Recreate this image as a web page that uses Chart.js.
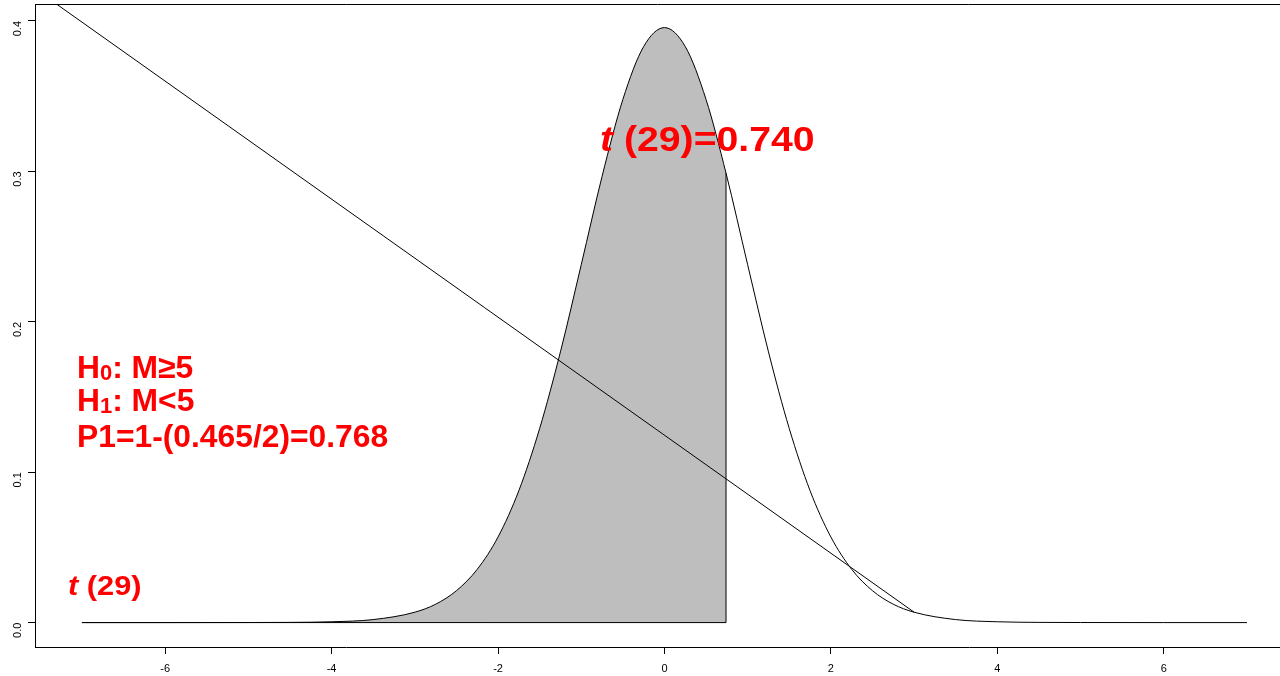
<!DOCTYPE html>
<html>
<head>
<meta charset="utf-8">
<script src="https://cdn.jsdelivr.net/npm/chart.js@4/dist/chart.umd.min.js"></script>
<style>
  html, body { margin: 0; padding: 0; background: #fff; overflow: hidden; }
  canvas { display: block; }
</style>
</head>
<body>
<canvas id="c" width="1280" height="676"></canvas>
<script>
// Student t density, 29 degrees of freedom, sampled along t
const tValues = [-7, -6, -5, -4.5, -4, -3.5, -3, -2.75, -2.5, -2.25, -2, -1.75, -1.5, -1.25, -1, -0.75, -0.5, -0.25,
                 0, 0.25, 0.5, 0.74, 1, 1.25, 1.5, 1.75, 2, 2.25, 2.5, 2.75, 3, 3.5, 4, 4.5, 5, 6, 7];
const densityValues = [0, 0.000003, 0.00004, 0.00014, 0.00054, 0.0020, 0.0069, 0.0122, 0.0212, 0.0354, 0.0569, 0.0877, 0.1290, 0.1800, 0.2379, 0.2966, 0.3478, 0.3830,
                       0.3956, 0.3830, 0.3478, 0.2988, 0.2379, 0.1800, 0.1290, 0.0877, 0.0569, 0.0354, 0.0212, 0.0122, 0.0069, 0.0020, 0.00054, 0.00014, 0.00004, 0.000003, 0];

// observed statistic and the density height there
const tObserved = 0.740;
const densityAtObserved = 0.2988;
const tLower = -7;

// straight reference line
const refLineX = [-7.6, 3];
const refLineY = [0.4228, 0.0069];

// axis ticks
const xTickValues = [-6, -4, -2, 0, 2, 4, 6];
const yTickValues = [0, 0.1, 0.2, 0.3, 0.4];

const curvePts = tValues.map((x, i) => ({ x, y: densityValues[i] }));
const shadedPts = curvePts.filter(p => p.x <= tObserved + 1e-9);
const outlinePts = [
  { x: tLower, y: 0 },
  { x: tObserved, y: 0 },
  { x: tObserved, y: densityAtObserved }
];
const refPts = refLineX.map((x, i) => ({ x, y: refLineY[i] }));

const FONT = '"Liberation Sans", Arial, Helvetica, sans-serif';
const RED = '#FF0000';

// frame line along the top of the plot area
const topFrame = {
  id: 'topFrame',
  afterDraw(chart) {
    const { ctx, chartArea } = chart;
    ctx.save();
    ctx.strokeStyle = '#000';
    ctx.lineWidth = 1;
    ctx.beginPath();
    ctx.moveTo(chartArea.left, chartArea.top + 0.5);
    ctx.lineTo(chartArea.right, chartArea.top + 0.5);
    ctx.stroke();
    ctx.restore();
  }
};

// draws a sequence of text runs on one baseline
function drawRuns(ctx, x, y, runs, sx) {
  ctx.save();
  ctx.translate(x, y);
  ctx.scale(sx, 1);
  let cx = 0;
  for (const r of runs) {
    ctx.font = r.font;
    ctx.fillText(r.text, cx, r.dy || 0);
    cx += ctx.measureText(r.text).width;
  }
  ctx.restore();
}

// red annotations
const annotations = {
  id: 'annotations',
  afterDatasetsDraw(chart) {
    const ctx = chart.ctx;
    ctx.save();
    ctx.fillStyle = RED;
    ctx.textBaseline = 'alphabetic';
    ctx.textAlign = 'left';

    drawRuns(ctx, 600, 151, [
      { text: 't', font: `italic bold 35px ${FONT}` },
      { text: ' (29)=0.740', font: `bold 35px ${FONT}` }
    ], 1.12);

    drawRuns(ctx, 77, 378, [
      { text: 'H', font: `bold 31.8px ${FONT}` },
      { text: '0', font: `bold 22px ${FONT}`, dy: 2 },
      { text: ': M≥5', font: `bold 31.8px ${FONT}` }
    ], 1.0);
    drawRuns(ctx, 77, 411, [
      { text: 'H', font: `bold 31.8px ${FONT}` },
      { text: '1', font: `bold 22px ${FONT}`, dy: 2 },
      { text: ': M<5', font: `bold 31.8px ${FONT}` }
    ], 1.0);
    drawRuns(ctx, 77, 447, [
      { text: 'P1=1-(0.465/2)=0.768', font: `bold 31.8px ${FONT}` }
    ], 1.0);

    drawRuns(ctx, 68, 595, [
      { text: 't', font: `italic bold 28px ${FONT}` },
      { text: ' (29)', font: `bold 28px ${FONT}` }
    ], 1.1);
    ctx.restore();
  }
};

new Chart(document.getElementById('c'), {
  type: 'scatter',
  data: {
    datasets: [
      { // density curve
        data: curvePts, showLine: true, borderColor: '#000', borderWidth: 1,
        pointRadius: 0, cubicInterpolationMode: 'monotone', fill: false, order: 0
      },
      { // reference line
        data: refPts, showLine: true, borderColor: '#000', borderWidth: 1,
        pointRadius: 0, tension: 0, fill: false, order: 1
      },
      { // outline of the shaded region
        data: outlinePts, showLine: true, borderColor: '#000', borderWidth: 1,
        pointRadius: 0, tension: 0, fill: false, order: 2
      },
      { // shaded area up to the observed t
        data: shadedPts, showLine: true, borderColor: 'rgba(0,0,0,0)', borderWidth: 0,
        backgroundColor: '#BEBEBE', pointRadius: 0, cubicInterpolationMode: 'monotone',
        fill: 'origin', order: 3
      }
    ]
  },
  options: {
    responsive: false,
    animation: false,
    devicePixelRatio: 1,
    layout: { padding: { top: 4, right: 0, left: 0, bottom: 0 } },
    plugins: { legend: { display: false }, tooltip: { enabled: false } },
    scales: {
      x: {
        type: 'linear',
        min: -7.564, max: 7.397,
        afterBuildTicks: s => { s.ticks = xTickValues.map(v => ({ value: v })); },
        afterFit: s => { s.height = 29; s.paddingLeft = 0; s.paddingRight = 0; },
        grid: { drawOnChartArea: false, drawTicks: true, tickLength: 7, color: '#000', lineWidth: 1 },
        border: { display: true, color: '#000', width: 1 },
        ticks: {
          autoSkip: false, maxRotation: 0, minRotation: 0, padding: 8, color: '#000',
          font: { family: FONT, size: 11 },
          callback: v => String(v)
        }
      },
      y: {
        type: 'linear',
        min: -0.01623, max: 0.4113,
        afterBuildTicks: s => { s.ticks = yTickValues.map(v => ({ value: v })); },
        afterFit: s => { s.width = 35; s.paddingTop = 0; s.paddingBottom = 0; },
        grid: { drawOnChartArea: false, drawTicks: true, tickLength: 7, color: '#000', lineWidth: 1 },
        border: { display: true, color: '#000', width: 1 },
        ticks: {
          autoSkip: false, minRotation: 90, maxRotation: 90, padding: 10, color: '#000',
          font: { family: FONT, size: 11 },
          callback: v => Number(v).toFixed(1)
        }
      }
    }
  },
  plugins: [topFrame, annotations]
});
</script>
</body>
</html>
